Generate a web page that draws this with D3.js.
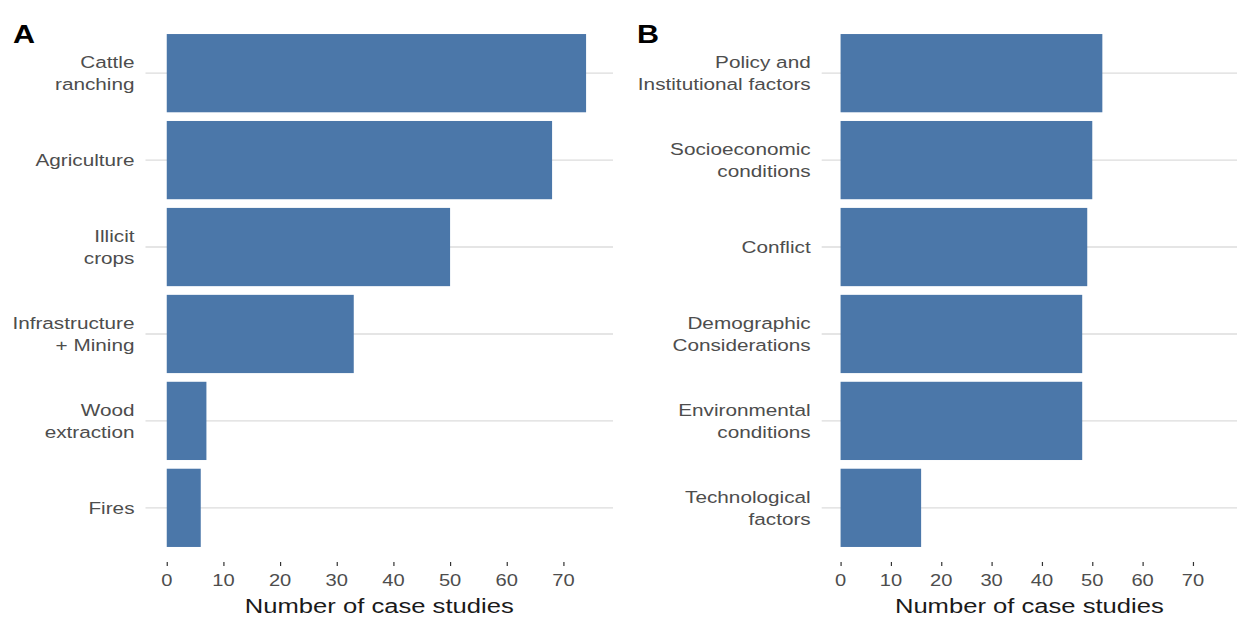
<!DOCTYPE html>
<html>
<head>
<meta charset="utf-8">
<script src="https://cdn.jsdelivr.net/npm/d3@7"></script>
<style>
  body { margin: 0; background: #fff; }
  text { font-family: "Liberation Sans", Arial, sans-serif; }
</style>
</head>
<body>
<script>
// panel A: direct drivers
var directDrivers = ["Cattle\nranching", "Agriculture", "Illicit\ncrops", "Infrastructure\n+ Mining", "Wood\nextraction", "Fires"];
var directCounts = [74, 68, 50, 33, 7, 6];

// panel B: underlying drivers
var underlyingDrivers = ["Policy and\nInstitutional factors", "Socioeconomic\nconditions", "Conflict", "Demographic\nConsiderations", "Environmental\nconditions", "Technological\nfactors"];
var underlyingCounts = [52, 50, 49, 48, 48, 16];

var xTicks = [0, 10, 20, 30, 40, 50, 60, 70];
var xTitle = "Number of case studies";

var svg = d3.select("body").append("svg")
  .attr("width", 1239)
  .attr("height", 620);

var stretch = 1.22; // figure text looks horizontally stretched
var plotTop = 21, plotBottom = 560;

function stext(g, x, y, str, size, anchor, fill, weight) {
  return g.append("text")
    .attr("transform", "translate(" + x + "," + y + ") scale(" + stretch + ",1)")
    .attr("text-anchor", anchor)
    .style("font-size", size + "px")
    .style("font-weight", weight || "normal")
    .style("fill", fill)
    .text(str);
}

function panel(letter, cats, vals, x0, x1, letterX) {
  var g = svg.append("g");

  var x = d3.scaleLinear().domain([-3.75, 78.75]).range([x0, x1]);
  var y = d3.scaleBand().domain(cats).range([plotTop, plotBottom])
    .paddingInner(0.1).paddingOuter(0.15);

  // grid lines
  g.append("g").selectAll("line")
    .data(cats)
    .enter().append("line")
    .attr("x1", x0).attr("x2", x1)
    .attr("y1", function (d) { return y(d) + y.bandwidth() / 2; })
    .attr("y2", function (d) { return y(d) + y.bandwidth() / 2; })
    .style("stroke", "#dcdcdc")
    .style("stroke-width", 1.4);

  g.append("g").selectAll("rect")
    .data(cats)
    .enter().append("rect")
    .attr("x", x(0))
    .attr("y", function (d) { return y(d); })
    .attr("width", function (d, i) { return x(vals[i]) - x(0); })
    .attr("height", y.bandwidth())
    .style("fill", "#4b77a9");

  // category labels
  cats.forEach(function (c) {
    var lines = c.split("\n");
    var cy = y(c) + y.bandwidth() / 2;
    lines.forEach(function (l, k) {
      var off = (k - (lines.length - 1) / 2) * 22;
      stext(g, x0 - 11, cy + off + 6, l, 17, "end", "#4d4d4d");
    });
  });

  // x axis
  var ax = g.append("g")
    .attr("transform", "translate(0," + (plotBottom + 2) + ")")
    .call(d3.axisBottom(x).tickValues(xTicks).tickSize(4).tickFormat(""));
  ax.select(".domain").remove();
  ax.selectAll(".tick line").style("stroke", "#333").style("stroke-width", 1.2);

  xTicks.forEach(function (t) {
    stext(g, x(t), 586, String(t), 16.5, "middle", "#4d4d4d");
  });

  stext(g, (x0 + x1) / 2, 613, xTitle, 21, "middle", "#1a1a1a");

  stext(g, letterX, 43, letter, 25, "start", "#000", "bold");
}

panel("A", directDrivers, directCounts, 145.5, 613, 13);
panel("B", underlyingDrivers, underlyingCounts, 821.7, 1237, 637);
</script>
</body>
</html>
